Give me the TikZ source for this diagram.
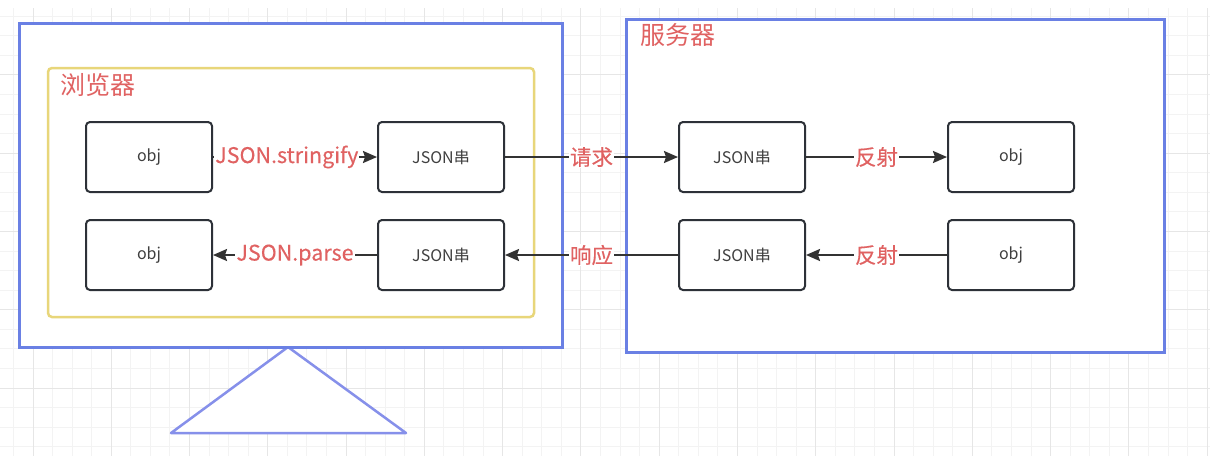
\documentclass[tikz,border=0pt]{standalone}
\usepackage{fontspec}
\setmainfont{Noto Sans CJK SC}
\newfontfamily\labelfont[FakeBold=0.3]{Noto Sans CJK SC}
\usetikzlibrary{arrows.meta}
\definecolor{gridminor}{HTML}{F3F3F3}
\definecolor{gridmajor}{HTML}{E6E6E6}
\definecolor{frameblue}{HTML}{6A80E4}
\definecolor{triblue}{HTML}{8690EA}
\definecolor{frameyellow}{HTML}{E8D67A}
\definecolor{labelred}{HTML}{E06262}
\definecolor{boxline}{HTML}{2D3138}
\definecolor{boxtext}{HTML}{3F3F3F}
\definecolor{arrowgray}{HTML}{333333}
\tikzset{
  databox/.style={draw=boxline, line width=2pt, rounded corners=4pt, fill=white,
    minimum width=126pt, minimum height=70pt, inner sep=0pt,
    font=\fontsize{16}{18}\selectfont, text=boxtext},
  flow/.style={draw=arrowgray, line width=2pt,
    -{Stealth[length=14pt,width=12pt,inset=2pt]}},
  flowlabel/.style={fill=white, inner sep=1pt, text=labelred,
    font=\labelfont\fontsize{21.5}{23}\selectfont},
  titletext/.style={text=labelred, font=\fontsize{25}{27}\selectfont, inner sep=0pt, anchor=west}
}
\begin{document}
\begin{tikzpicture}[x=1pt,y=-1pt]
\useasboundingbox (0,0) rectangle (1210,456);
\fill[white] (0,0) rectangle (1210,456);
% grid
\begin{scope}
\clip (0,8) rectangle (1210,456);
\foreach \i in {-1,...,62} {
  \draw[gridminor, line width=1pt] ({33+19.57*(\i-1)+19.57},8) -- ++(0,448);
}
\foreach \i in {0,...,24} {
  \draw[gridminor, line width=1pt] (0,{388-19.57*(\i-4)}) -- ++(1210,0);
}
\foreach \i in {0,...,15} {
  \draw[gridmajor, line width=1pt] ({33+78.28*\i},8) -- ++(0,448);
}
\foreach \i in {-1,...,5} {
  \draw[gridmajor, line width=1pt] (0,{388-78.28*\i}) -- ++(1210,0);
}
\end{scope}
% triangle stand
\draw[triblue, line width=2.5pt, fill=white, line join=round] (288,347) -- (406,433) -- (171,433) -- cycle;
% frames
\node[draw=frameblue, line width=3pt, fill=white, minimum width=543pt, minimum height=324pt, inner sep=0pt] (monitor) at (290.5,185) {};
\node[draw=frameyellow, line width=2.5pt, rounded corners=4pt, minimum width=486pt, minimum height=249pt, inner sep=0pt] (browser) at (291,192.5) {};
\node[draw=frameblue, line width=3pt, fill=white, minimum width=538pt, minimum height=333pt, inner sep=0pt] (server) at (895,185.5) {};
\node[titletext] (browsertitle) at (60,85) {浏览器};
\node[titletext] (servertitle) at (640,35) {服务器};
% boxes
\node[databox] (obja) at (149,157) {obj};
\node[databox] (jsona) at (441,157) {JSON串};
\node[databox] (objb) at (149,255) {obj};
\node[databox] (jsonb) at (441,255) {JSON串};
\node[databox] (sjsona) at (742,157) {JSON串};
\node[databox] (sobja) at (1011,157) {obj};
\node[databox] (sjsonb) at (742,255) {JSON串};
\node[databox] (sobjb) at (1011,255) {obj};
% connectors
\draw[flow] (obja) -- node[flowlabel, pos=0.45] (l1) {JSON.stringify} (jsona);
\draw[flow] (jsona) -- node[flowlabel] (l2) {请求} (sjsona);
\draw[flow] (sjsona) -- node[flowlabel] (l3) {反射} (sobja);
\draw[flow] (sobjb) -- node[flowlabel] (l4) {反射} (sjsonb);
\draw[flow] (sjsonb) -- node[flowlabel] (l5) {响应} (jsonb);
\draw[flow] (jsonb) -- node[flowlabel] (l6) {JSON.parse} (objb);
\end{tikzpicture}
\end{document}
